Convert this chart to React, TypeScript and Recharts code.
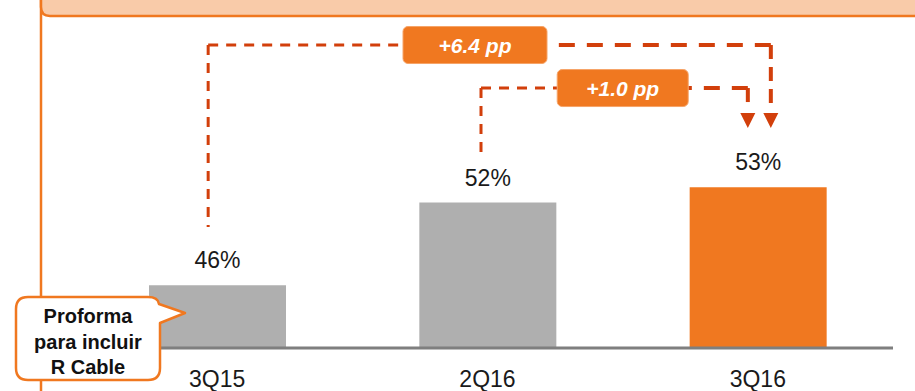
import React from 'react';
import { BarChart, Bar, XAxis, YAxis, Cell, LabelList, ReferenceLine } from 'recharts';

// ---- data ----
const categories = ['3Q15', '2Q16', '3Q16'];
const marginValues = [46.4, 51.8, 52.8];
const valueLabels = ['46%', '52%', '53%'];
const barColors = ['#AFAFAF', '#AFAFAF', '#F07820'];
const yDomain = [42.3, 64.9];

const deltaLabels = ['+6.4 pp', '+1.0 pp'];
const deltaFrom = ['3Q15', '2Q16'];
const deltaTo = ['3Q16', '3Q16'];
const deltaLevel = [62.09, 59.28];
const deltaBase = [50.2, 54.71];
const arrowStemEnd = [58.04, 58.04];
const arrowTop = [57.65, 57.65];
const arrowTip = [56.67, 56.67];

const calloutLines = ['Proforma', 'para incluir', 'R Cable'];

const data = categories.map((c, i) => ({ name: c, value: marginValues[i], label: valueLabels[i] }));

// ---- styles ----
const FONT = '"Liberation Sans", Arial, Helvetica, sans-serif';
const ORANGE = '#F07820';
const LINE = '#D23F0B';
const fromDx = [-9, -6.5];
const toDx = [13, -10];
const boxDx = [-14.5, 8.3];
const boxW = [144, 131];
const BOX_H = 37;

const thin = { stroke: LINE, strokeWidth: 3, strokeDasharray: '10 8', fill: 'none' };
const thickH = { stroke: LINE, strokeWidth: 4, strokeDasharray: '16 12', fill: 'none' };
const thickV = { stroke: LINE, strokeWidth: 4, strokeDasharray: '14 8', fill: 'none' };

const makeVertical = (dx: number, style: any) => (p: any) => (
  <line x1={p.x1 + dx} y1={p.y1} x2={p.x2 + dx} y2={p.y2} {...style} />
);

const makeHorizontal = (i: number) => (p: any) => {
  const xa = p.x1 + fromDx[i];
  const xb = p.x2 + toDx[i];
  const y = p.y1;
  const cx = (xa + xb) / 2 + boxDx[i];
  const w = boxW[i];
  return (
    <g>
      <line x1={xa} y1={y} x2={cx - w / 2} y2={y} {...thin} />
      <line x1={xb} y1={y} x2={cx + w / 2} y2={y} {...thickH} />
      <rect x={cx - w / 2} y={y - BOX_H / 2} width={w} height={BOX_H} rx={5} fill={ORANGE} stroke="#F6A468" strokeWidth={1} />
      <text x={cx} y={y + 7.5} textAnchor="middle" fill="#FFFFFF" fontSize={21} fontWeight="bold" fontStyle="italic" fontFamily={FONT}>
        {deltaLabels[i]}
      </text>
    </g>
  );
};

const makeArrow = (dx: number) => (p: any) => {
  const x = p.x1 + dx;
  return <polygon points={`${x - 7.5},${p.y1} ${x + 7.5},${p.y1} ${x},${p.y2}`} fill={LINE} />;
};

const ValueLabel = (props: any) => {
  const { x, y, width, index } = props;
  return (
    <text x={x + width / 2} y={y - 17} textAnchor="middle" fontSize={23} fill="#1A1A1A" fontFamily={FONT}>
      {valueLabels[index]}
    </text>
  );
};

const Tick = (props: any) => {
  const { x, y, payload } = props;
  return (
    <text x={x} y={y + 39} textAnchor="middle" fontSize={23} fill="#1A1A1A" fontFamily={FONT}>
      {payload.value}
    </text>
  );
};

export default function App() {
  const refs: React.ReactNode[] = [];
  deltaLabels.forEach((_, i) => {
    refs.push(
      <ReferenceLine
        key={`lv${i}`}
        ifOverflow="visible"
        segment={[{ x: deltaFrom[i], y: deltaLevel[i] }, { x: deltaFrom[i], y: deltaBase[i] }]}
        shape={makeVertical(fromDx[i], thin)}
      />
    );
    refs.push(
      <ReferenceLine
        key={`rv${i}`}
        ifOverflow="visible"
        segment={[{ x: deltaTo[i], y: deltaLevel[i] }, { x: deltaTo[i], y: arrowStemEnd[i] }]}
        shape={makeVertical(toDx[i], thickV)}
      />
    );
    refs.push(
      <ReferenceLine
        key={`ar${i}`}
        ifOverflow="visible"
        segment={[{ x: deltaTo[i], y: arrowTop[i] }, { x: deltaTo[i], y: arrowTip[i] }]}
        shape={makeArrow(toDx[i])}
      />
    );
    refs.push(
      <ReferenceLine
        key={`h${i}`}
        ifOverflow="visible"
        segment={[{ x: deltaFrom[i], y: deltaLevel[i] }, { x: deltaTo[i], y: deltaLevel[i] }]}
        shape={makeHorizontal(i)}
      />
    );
  });

  return (
    <div style={{ position: 'absolute', left: 0, top: 0, width: 915, height: 391, background: '#FFFFFF', overflow: 'hidden' }}>
      <svg width={915} height={391} style={{ position: 'absolute', left: 0, top: 0 }}>
        <line x1={41} y1={0} x2={41} y2={391} stroke={ORANGE} strokeWidth={2.5} />
        <path d="M 41 -3 L 41 7 Q 41 16 50 16 L 918 16 L 918 -3 Z" fill="#F9CBA9" stroke={ORANGE} strokeWidth={2.5} />
      </svg>
      <div style={{ position: 'absolute', left: 0, top: 0 }}>
        <BarChart width={915} height={391} data={data} margin={{ top: 2, right: 22, bottom: 13, left: 40 }}>
          <YAxis hide width={0} type="number" domain={yDomain} allowDataOverflow />
          <XAxis
            dataKey="name"
            height={30}
            interval={0}
            tickLine={false}
            tickSize={0}
            tickMargin={0}
            padding={{ left: 42, right: 0 }}
            axisLine={{ stroke: '#7F7F7F', strokeWidth: 3 }}
            tick={<Tick />}
          />
          <Bar dataKey="value" barSize={137} isAnimationActive={false}>
            {data.map((_, i) => (
              <Cell key={i} fill={barColors[i]} />
            ))}
            <LabelList dataKey="label" content={<ValueLabel />} />
          </Bar>
          {refs}
        </BarChart>
      </div>
      <svg width={915} height={391} style={{ position: 'absolute', left: 0, top: 0, pointerEvents: 'none' }}>
        <path
          d="M 28 297 H 148 Q 158 297 159 304 L 185 313 L 160 323 V 368 Q 160 380 148 380 H 28 Q 16 380 16 368 V 309 Q 16 297 28 297 Z"
          fill="#FFFFFF"
          stroke={ORANGE}
          strokeWidth={2.5}
          strokeLinejoin="round"
        />
        {calloutLines.map((t, i) => (
          <text key={t} x={88} y={323 + i * 25.5} textAnchor="middle" fontSize={20} fontWeight="bold" fill="#111111" fontFamily={FONT}>
            {t}
          </text>
        ))}
      </svg>
    </div>
  );
}
